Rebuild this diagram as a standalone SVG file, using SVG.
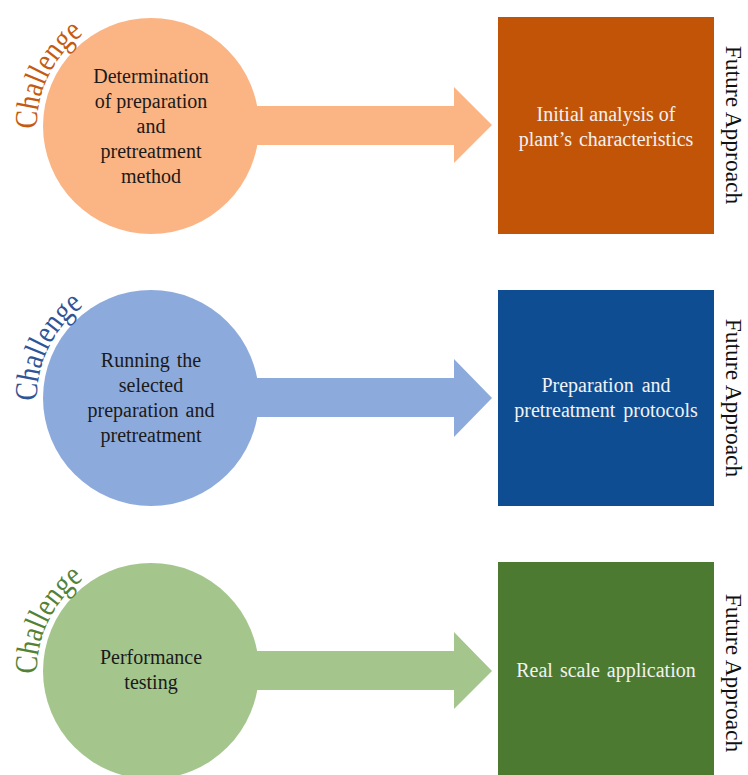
<svg xmlns="http://www.w3.org/2000/svg" width="748" height="775" viewBox="0 0 748 775">
<style>
.t{font-family:"Liberation Serif","Times New Roman",serif;font-size:20px;text-anchor:middle;}
.in{fill:#1a1a1a;}
.wt{fill:#F2F2F2;}
.fa{font-family:"Liberation Serif","Times New Roman",serif;font-size:23.5px;fill:#111;text-anchor:middle;}
.ch{font-family:"Liberation Serif","Times New Roman",serif;font-size:32px;}
</style>
<defs>
<path id="arc1" d="M 37 130 A 114 114 0 0 1 151 12"/>
<path id="arc2" d="M 37 402 A 114 114 0 0 1 151 284"/>
<path id="arc3" d="M 37 675 A 114 114 0 0 1 151 557"/>
</defs>
<rect width="748" height="775" fill="#fff"/>
<g id="connectors">
<polygon fill="#FBB584" points="230,106 454,106 454,87 492,125 454,163 454,145 230,145"/>
<polygon fill="#8DAADC" points="230,378 454,378 454,359 492,398 454,437 454,417 230,417"/>
<polygon fill="#A4C68D" points="230,651 454,651 454,632 492,671 454,709 454,690 230,690"/>
</g>
<g id="challenge1">
<circle cx="151" cy="126" r="108" fill="#FBB584"/>
<text class="ch" fill="#C55A11"><textPath href="#arc1" startOffset="1" textLength="110" lengthAdjust="spacingAndGlyphs">Challenge</textPath></text>
<text class="t in"><tspan x="151" y="83">Determination</tspan><tspan x="151" y="108">of preparation</tspan><tspan x="151" y="133">and</tspan><tspan x="151" y="158">pretreatment</tspan><tspan x="151" y="183">method</tspan></text>
</g>
<g id="approach1">
<rect x="498" y="17" width="216" height="217" fill="#C25408"/>
<text class="t wt"><tspan x="606" y="121">Initial analysis of</tspan><tspan x="606" y="146" word-spacing="2">plant’s characteristics</tspan></text>
</g>
<text class="fa" transform="translate(726,125) rotate(90)">Future Approach</text>
<g id="challenge2">
<circle cx="151" cy="398" r="108" fill="#8DAADC"/>
<text class="ch" fill="#2F5597"><textPath href="#arc2" startOffset="1" textLength="110" lengthAdjust="spacingAndGlyphs">Challenge</textPath></text>
<text class="t in" word-spacing="2"><tspan x="151" y="367">Running the</tspan><tspan x="151" y="392">selected</tspan><tspan x="151" y="417">preparation and</tspan><tspan x="151" y="442">pretreatment</tspan></text>
</g>
<g id="approach2">
<rect x="498" y="290" width="216" height="216" fill="#0F4D92"/>
<text class="t wt" word-spacing="3"><tspan x="606" y="392">Preparation and</tspan><tspan x="606" y="417">pretreatment protocols</tspan></text>
</g>
<text class="fa" transform="translate(726,398) rotate(90)">Future Approach</text>
<g id="challenge3">
<circle cx="151" cy="671" r="108" fill="#A4C68D"/>
<text class="ch" fill="#548235"><textPath href="#arc3" startOffset="1" textLength="110" lengthAdjust="spacingAndGlyphs">Challenge</textPath></text>
<text class="t in"><tspan x="151" y="664">Performance</tspan><tspan x="151" y="689">testing</tspan></text>
</g>
<g id="approach3">
<rect x="498" y="562" width="216" height="216" fill="#4C7A30"/>
<text class="t wt" word-spacing="2"><tspan x="606" y="677">Real scale application</tspan></text>
</g>
<text class="fa" transform="translate(726,673) rotate(90)">Future Approach</text>
</svg>
